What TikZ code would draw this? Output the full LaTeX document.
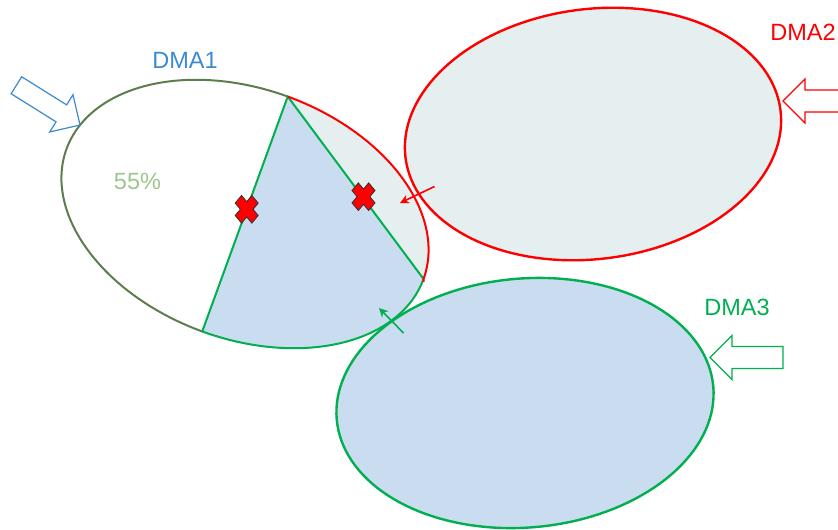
\documentclass[tikz,border=0pt]{standalone}
\usepackage{fontspec}
\setmainfont{Liberation Sans}
\usetikzlibrary{arrows.meta}
\definecolor{dmared}{HTML}{FF0000}
\definecolor{dmagreen}{HTML}{00B050}
\definecolor{dmablue}{HTML}{3B8AD0}
\definecolor{dmaolive}{HTML}{5E7D4E}
\definecolor{pctgreen}{HTML}{9CC68C}
\definecolor{fillgray}{HTML}{E6EFF0}
\definecolor{fillblue}{HTML}{C9DCF0}
\begin{document}
\begin{tikzpicture}[x=1pt,y=-1pt,
  declare function={
    e1x(\t)=245+190*cos(\t)*cos(20)-125*sin(\t)*sin(20);
    e1y(\t)=214+190*cos(\t)*sin(20)+125*sin(\t)*cos(20);
    e2x(\t)=593+189*cos(\t)*cos(-7.3)-125*sin(\t)*sin(-7.3);
    e2y(\t)=134+189*cos(\t)*sin(-7.3)+125*sin(\t)*cos(-7.3);
    e3x(\t)=525+189*cos(\t)*cos(-5)-124.5*sin(\t)*sin(-5);
    e3y(\t)=403+189*cos(\t)*sin(-5)+124.5*sin(\t)*cos(-5);
  },
  lbl/.style={font=\fontsize{23.5}{28}\selectfont, inner sep=0pt},
  ellout/.style={line width=2.4pt},
  hollow/.style={line width=1.2pt, fill=white, line join=miter},
  smallarr/.style={line width=1.6pt, -{Stealth[length=9pt,width=9pt]}},
  xmark/.style={fill=dmared, draw=black!80, line width=0.8pt, line join=miter}
]
\useasboundingbox (0,0) rectangle (838,530);

% key points of DMA1
\coordinate (P1) at ({e1x(-90)},{e1y(-90)});
\coordinate (P2) at ({e1x(90)},{e1y(90)});
\coordinate (P3) at ({e1x(0)},{e1y(0)});

% fills
\fill[fillgray] plot[domain=0:360, samples=145] ({e2x(\x)},{e2y(\x)}) -- cycle;
\fill[fillblue] plot[domain=0:360, samples=145] ({e3x(\x)},{e3y(\x)}) -- cycle;
\fill[fillgray] plot[domain=-90:0, samples=50] ({e1x(\x)},{e1y(\x)}) -- cycle;
\fill[fillblue] (P1) -- plot[domain=90:0, samples=50] ({e1x(\x)},{e1y(\x)}) -- cycle;

% DMA1 left outline
\draw[dmaolive, line width=2pt] plot[domain=90:270, samples=90] ({e1x(\x)},{e1y(\x)});

% DMA2, DMA3 outlines
\draw[dmared, ellout] plot[domain=0:360, samples=145] ({e2x(\x)},{e2y(\x)}) -- cycle;
\draw[dmagreen, ellout] plot[domain=0:360, samples=145] ({e3x(\x)},{e3y(\x)}) -- cycle;

% DMA1 split region outlines
\draw[dmagreen, line width=2pt, line join=round] (P2) -- (P1) -- (P3);
\draw[dmagreen, line width=2pt] plot[domain=0:90, samples=50] ({e1x(\x)},{e1y(\x)});
\draw[dmared, line width=2pt] plot[domain=-90:0, samples=50] ({e1x(\x)},{e1y(\x)}) -- ++(0,3);

% cross marks
\path[xmark, shift={(246.7,209.3)}, yscale=1.2, rotate=45]
  (4.5,4.5) -- (4.5,11.8) -- (-4.5,11.8) -- (-4.5,4.5) -- (-11.8,4.5) -- (-11.8,-4.5)
  -- (-4.5,-4.5) -- (-4.5,-11.8) -- (4.5,-11.8) -- (4.5,-4.5) -- (11.8,-4.5) -- (11.8,4.5) -- cycle;
\path[xmark, shift={(363.5,196.7)}, yscale=1.2, rotate=45]
  (4.5,4.5) -- (4.5,11.8) -- (-4.5,11.8) -- (-4.5,4.5) -- (-11.8,4.5) -- (-11.8,-4.5)
  -- (-4.5,-4.5) -- (-4.5,-11.8) -- (4.5,-11.8) -- (4.5,-4.5) -- (11.8,-4.5) -- (11.8,4.5) -- cycle;

% small arrows
\coordinate (ra) at (434.5,186.5);
\coordinate (rb) at (400,203);
\draw[dmared, smallarr] (ra) -- (rb);
\coordinate (ga) at (403.5,333);
\coordinate (gb) at (379,308);
\draw[dmagreen, smallarr] (ga) -- (gb);

% hollow arrows
\draw[dmablue, hollow, shift={(80,125)}, rotate=-32]
  (0,0) -- (-22,-22) -- (-22,-10) -- (-75,-10) -- (-75,10) -- (-22,10) -- (-22,22) -- cycle;
\draw[dmared, hollow]
  (783,101) -- (805,79) -- (805,90) -- (850,90) -- (850,112) -- (805,112) -- (805,123) -- cycle;
\draw[dmagreen, hollow]
  (710,357.5) -- (732,335.5) -- (732,346.5) -- (783,346.5) -- (783,368.5) -- (732,368.5) -- (732,379.5) -- cycle;

% labels
\node[lbl, text=dmablue] (l1) at (185,60) {DMA1};
\node[lbl, text=dmared] (l2) at (803,32) {DMA2};
\node[lbl, text=dmagreen] (l3) at (737,307) {DMA3};
\node[lbl, text=pctgreen] (pct) at (137.5,181) {55\%};
\end{tikzpicture}
\end{document}
